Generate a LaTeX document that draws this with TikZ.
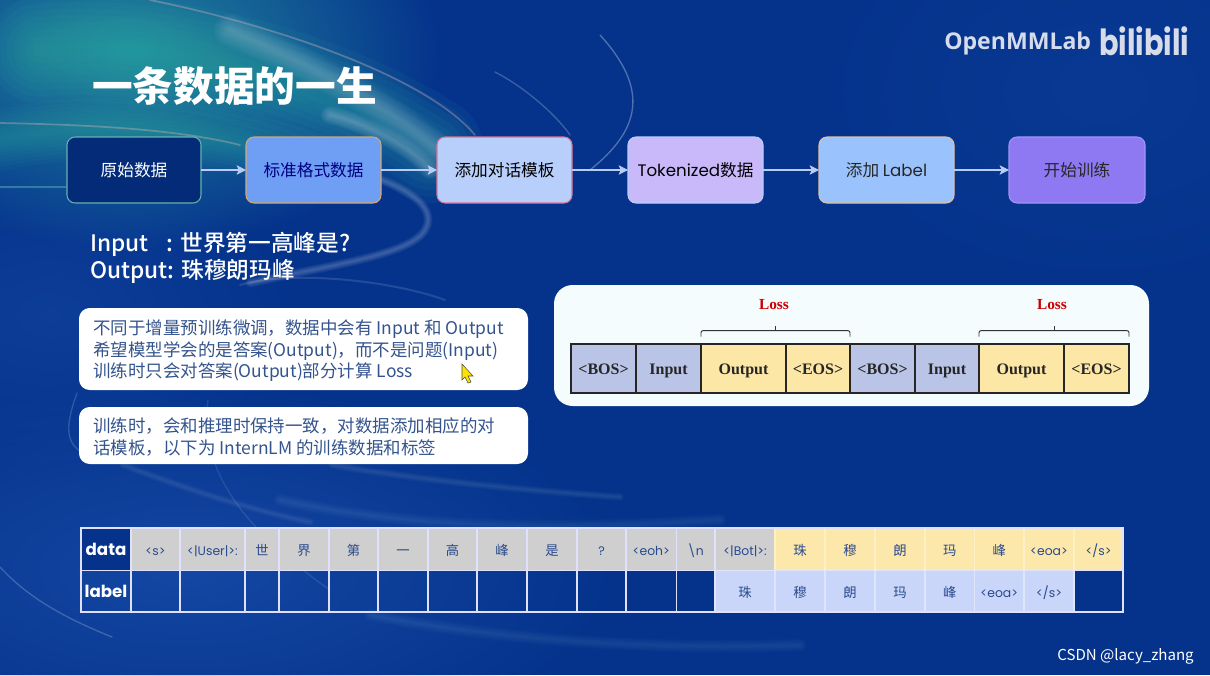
\documentclass[tikz,border=0pt]{standalone}
\usepackage{fontspec}
\setmainfont{Noto Sans CJK SC}
\newfontfamily\medfont{Noto Sans CJK SC Medium}
\newfontfamily\pop{Poppins}
\newfontfamily\tms{Liberation Serif}
\newfontfamily\opn{Open Sans}
\usetikzlibrary{fadings,arrows.meta,calc}
\definecolor{bgblue}{HTML}{05338C}
\definecolor{bglight}{HTML}{1E56B4}
\definecolor{tealglow}{HTML}{2FB0A5}
\definecolor{celltxt}{HTML}{2A4A8E}
\definecolor{paneltxt}{HTML}{34548E}
\definecolor{greycell}{HTML}{CFCFCF}
\definecolor{yelcell}{HTML}{FDE8AB}
\definecolor{bluecell}{HTML}{C9D6FA}
\definecolor{tblbos}{HTML}{B9C4E6}
\definecolor{tblout}{HTML}{FCE7A6}
\definecolor{arrowc}{HTML}{B9CCF5}
\definecolor{brandc}{HTML}{D6DCEA}
\tikzfading[name=softglow, inner color=transparent!15, outer color=transparent!100]
\tikzset{
 flowbox/.style={rounded corners=6pt,line width=0.8pt,inner sep=0pt,outer sep=0pt,font=\fontsize{12.5}{14}\selectfont},
 flowarrow/.style={draw=arrowc,line width=0.9pt,-{Stealth[length=7pt,width=7pt,fill=arrowc,inset=1.5pt]}},
 notebox/.style={fill=white,rounded corners=8pt,inner sep=0pt,outer sep=0pt},
 notetxt/.style={text=paneltxt,align=left,anchor=west,inner sep=0pt,font=\fontsize{13.1}{16.2}\selectfont},
 gridcell/.style={draw=white!88!blue,line width=0.9pt,inner sep=0pt,outer sep=0pt,text=celltxt,text height=11pt,text depth=1pt,font=\fontsize{10}{11}\selectfont},
 lossbox/.style={draw=black!85,line width=2pt,inner sep=0pt,outer sep=0pt,text height=10pt,text depth=1.5pt,font=\tms\bfseries\fontsize{12}{13}\selectfont,text=black!85},
 swirl/.style={line cap=round,white,opacity=0.16,line width=1pt},
}
\newcommand{\cellbox}[7]{%
 \pgfmathsetmacro\cw{(#3-#2)*0.75}\pgfmathsetmacro\ch{(#5-#4)*0.75}%
 \node[#6,minimum width=\cw pt,minimum height=\ch pt] (#1) at ({(#2+#3)/2},{(#4+#5)/2}) {#7};}
\newcommand{\softcurve}[4]{%
 \foreach \sw in {1,...,8}{%
  \pgfmathsetmacro\lw{#3*\sw/8}%
  \draw[#1,opacity=#2,line width=\lw pt,line cap=round] #4;}}
\begin{document}
\begin{tikzpicture}[x=0.75pt,y=-0.75pt]
\useasboundingbox (0,0) rectangle (1210,675);
\fill[bgblue] (0,0) rectangle (1210,675);
\fill[bglight,path fading=softglow,fit fading=true,opacity=.7] (-250,380) rectangle (620,760);
\fill[bglight,path fading=softglow,fit fading=true,opacity=.2] (800,-120) rectangle (1400,300);
\fill[bglight,path fading=softglow,fit fading=true,opacity=.35] (-200,150) rectangle (300,480);
% teal swirl
\fill[tealglow,path fading=softglow,fit fading=true,opacity=.8] (-180,-150) rectangle (440,250);
\softcurve{tealglow}{.07}{80}{(40,50) .. controls (160,40) and (320,80) .. (430,150)}
\softcurve{tealglow}{.06}{46}{(0,140) .. controls (100,120) and (190,125) .. (320,165)}
\softcurve{white}{.03}{24}{(230,30) .. controls (300,60) and (380,100) .. (445,155)}
\softcurve{white}{.035}{14}{(330,115) .. controls (370,125) and (410,145) .. (430,170)}
\draw[swirl,opacity=.3,line width=1.3pt,color=pink] (150,0) .. controls (250,20) and (420,70) .. (475,135);
\draw[swirl,opacity=.3,line width=1.3pt,color=pink] (0,123) .. controls (100,125) and (180,130) .. (240,145);
\draw[swirl,opacity=.4,line width=1.5pt,color=tealglow!70!white] (0,187) -- (66,187);
\softcurve{white}{.03}{7}{(330,165) .. controls (400,180) and (440,205) .. (425,230) .. controls (410,255) and (330,265) .. (250,283)}
\draw[swirl,opacity=.12,line width=1.5pt] (240,285) .. controls (290,270) and (390,280) .. (445,300);
\draw[swirl,opacity=.3] (600,35) .. controls (650,90) and (640,130) .. (590,170);
\draw[swirl,opacity=.22] (495,72) .. controls (530,90) and (560,120) .. (570,135);
\draw[swirl] (77,393) .. controls (60,440) and (70,450) .. (100,460);
\softcurve{white}{.015}{6}{(123,465) .. controls (190,490) and (250,510) .. (310,522)}
\softcurve{white}{.015}{6}{(332,465) .. controls (420,480) and (520,490) .. (620,497)}
\draw[swirl,opacity=.1] (208,400) .. controls (200,460) and (230,520) .. (330,590);
\draw[swirl,opacity=.2] (0,567) .. controls (30,600) and (70,620) .. (112,637);
\softcurve{white}{.012}{10}{(280,500) .. controls (420,530) and (560,530) .. (720,520)}
\softcurve{white}{.012}{10}{(370,615) .. controls (500,640) and (650,650) .. (800,645)}
% title
\node[text=white,anchor=west,inner sep=0pt,font=\bfseries\fontsize{30.5}{32}\selectfont] (title) at (92,86) {一条数据的一生};
\node[text=brandc,anchor=west,inner sep=0pt,font=\opn\bfseries\fontsize{17.3}{20}\selectfont] (brand) at (944,44) {OpenMMLab};
\node[text=brandc,anchor=west,inner sep=0pt,font=\pop\bfseries\fontsize{27}{29}\selectfont,xscale=.8] (bili) at (1099,41) {bilibili};
% flow
\cellbox{f1}{67}{201}{137}{203}{flowbox,draw=teal!60!white,fill=bgblue!85!black,text=white}{原始数据}
\definecolor{c2}{HTML}{6F9FF5}\definecolor{c3}{HTML}{B8CFFB}\definecolor{c4}{HTML}{C9B9FB}\definecolor{c5}{HTML}{9AC3FD}\definecolor{c6}{HTML}{8E79F3}
\cellbox{f2}{246}{381}{137}{203}{flowbox,draw=brown!70!white,fill=c2,text=blue!50!black}{标准格式数据}
\cellbox{f3}{437}{572}{137}{203}{flowbox,draw=purple!55!white,fill=c3,text=black}{添加对话模板}
\cellbox{f4}{628}{763}{137}{203}{flowbox,draw=c3,fill=c4,text=black}{{\pop Tokenized}数据}
\cellbox{f5}{819}{954}{137}{203}{flowbox,draw=brown!50!white,fill=c5,text=black!85}{添加 {\pop Label}}
\cellbox{f6}{1009}{1145}{137}{203}{flowbox,draw=c6!80!white,fill=c6,text=black!85}{开始训练}
\foreach \a/\b in {f1/f2,f2/f3,f3/f4,f4/f5,f5/f6} \draw[flowarrow] (\a) -- (\b);
% input output
\node[text=white,anchor=west,inner sep=0pt,align=left,font=\medfont\fontsize{17}{20}\selectfont] (io) at (90,258) {Input\hspace{.8em}: 世界第一高峰是?\\Output: 珠穆朗玛峰};
% notes
\cellbox{n1}{79}{528}{308}{390}{notebox}{}
\node[notetxt] (n1t) at (93,351) {不同于增量预训练微调，数据中会有 Input 和 Output\\希望模型学会的是答案(Output)，而不是问题(Input)\\训练时只会对答案(Output)部分计算 Loss};
\fill[yellow!85!orange,draw=black!70,line width=.4pt] (462,364) -- (473,376) -- (468,376) -- (471,382) -- (468,383) -- (465,377) -- (462,380) -- cycle;
\cellbox{n2}{79}{528}{407}{464}{notebox}{}
\node[notetxt] (n2t) at (93,437) {训练时，会和推理时保持一致，对数据添加相应的对\\话模板，以下为 InternLM 的训练数据和标签};
% loss panel
\cellbox{pnl}{554}{1149}{285}{406}{fill=white!96!cyan,rounded corners=14pt,inner sep=0pt,outer sep=0pt}{}
\cellbox{b1}{571}{636}{344}{393}{lossbox,fill=tblbos}{<BOS>}
\cellbox{i1}{636}{701}{344}{393}{lossbox,fill=tblbos}{Input}
\cellbox{o1}{701}{786}{344}{393}{lossbox,fill=tblout}{Output}
\cellbox{e1}{786}{850}{344}{393}{lossbox,fill=tblout}{<EOS>}
\cellbox{b2}{850}{915}{344}{393}{lossbox,fill=tblbos}{<BOS>}
\cellbox{i2}{915}{979}{344}{393}{lossbox,fill=tblbos}{Input}
\cellbox{o2}{979}{1064}{344}{393}{lossbox,fill=tblout}{Output}
\cellbox{e2}{1064}{1129}{344}{393}{lossbox,fill=tblout}{<EOS>}
\node[text=red!80!black,inner sep=0pt,font=\tms\bfseries\fontsize{11.5}{12}\selectfont] (l1) at (774,305) {Loss};
\node[text=red!80!black,inner sep=0pt,font=\tms\bfseries\fontsize{11.5}{12}\selectfont] (l2) at (1052,305) {Loss};
\foreach \o/\e in {o1/e1,o2/e2}{
 \draw[black!80,line width=.7pt,rounded corners=1.5pt] ([yshift=5.5pt]\o.north west) -- ([yshift=10pt]\o.north west) -- ([yshift=10pt]\e.north east) -- ([yshift=5.5pt]\e.north east);
 \draw[black!80,line width=.7pt] ($([yshift=10pt]\o.north west)!.5!([yshift=10pt]\e.north east)$) -- ++(0,-5);
}
% table
\newcommand{\tok}[1]{{\pop\fontsize{9.3}{11}\selectfont #1}}
\def\ya{528}\def\yb{570.5}\def\yc{612}
\cellbox{dh}{81}{131}{\ya}{\yb}{gridcell,fill=bgblue,text=white,font=\pop\bfseries\fontsize{12.5}{14}\selectfont}{data}
\cellbox{lh}{81}{131}{\yb}{\yc}{gridcell,text=white,font=\pop\bfseries\fontsize{12.5}{14}\selectfont}{label}
\foreach \n/\xa/\xb/\t in {1/131/180/\tok{<s>},2/180/245/\tok{<|User|>:},3/245/279/世,4/279/329/界,5/329/378/第,6/378/428/一,7/428/477/高,8/477/527/峰,9/527/577/是,10/577/626/\tok{?},11/626/676.5/\tok{<eoh>},12/676.5/715/\tok{\textbackslash n},13/715/775/\tok{<|Bot|>:}}{
 \cellbox{d\n}{\xa}{\xb}{\ya}{\yb}{gridcell,fill=greycell}{\t}
}
\foreach \n/\xa/\xb/\t in {14/775/825/珠,15/825/875/穆,16/875/925/朗,17/925/974.5/玛,18/974.5/1024/峰,19/1024/1074/\tok{<eoa>},20/1074/1123/\tok{</s>}}{
 \cellbox{d\n}{\xa}{\xb}{\ya}{\yb}{gridcell,fill=yelcell,draw=yelcell!70!white}{\t}
}
\foreach \n/\xa/\xb in {1/131/180,2/180/245,3/245/279,4/279/329,5/329/378,6/378/428,7/428/477,8/477/527,9/527/577,10/577/626,11/626/676.5,12/676.5/715}{
 \cellbox{e\n}{\xa}{\xb}{\yb}{\yc}{gridcell}{}
}
\cellbox{e20}{1074}{1123}{\yb}{\yc}{gridcell,fill=bgblue}{}
\foreach \n/\xa/\xb/\t in {13/715/775/珠,14/775/825/穆,15/825/875/朗,16/875/925/玛,17/925/974.5/峰,18/974.5/1024/\tok{<eoa>},19/1024/1074/\tok{</s>}}{
 \cellbox{e\n}{\xa}{\xb}{\yb}{\yc}{gridcell,fill=bluecell,draw=bluecell!60!white}{\t}
}
\draw[white!88!blue,line width=1pt] (dh.north west) rectangle (e20.south east);
\node[text=white!78,anchor=east,inner sep=0pt,font=\fontsize{11.3}{13}\selectfont] (wm) at (1194,656) {CSDN @lacy\_zhang};
\end{tikzpicture}
\end{document}
